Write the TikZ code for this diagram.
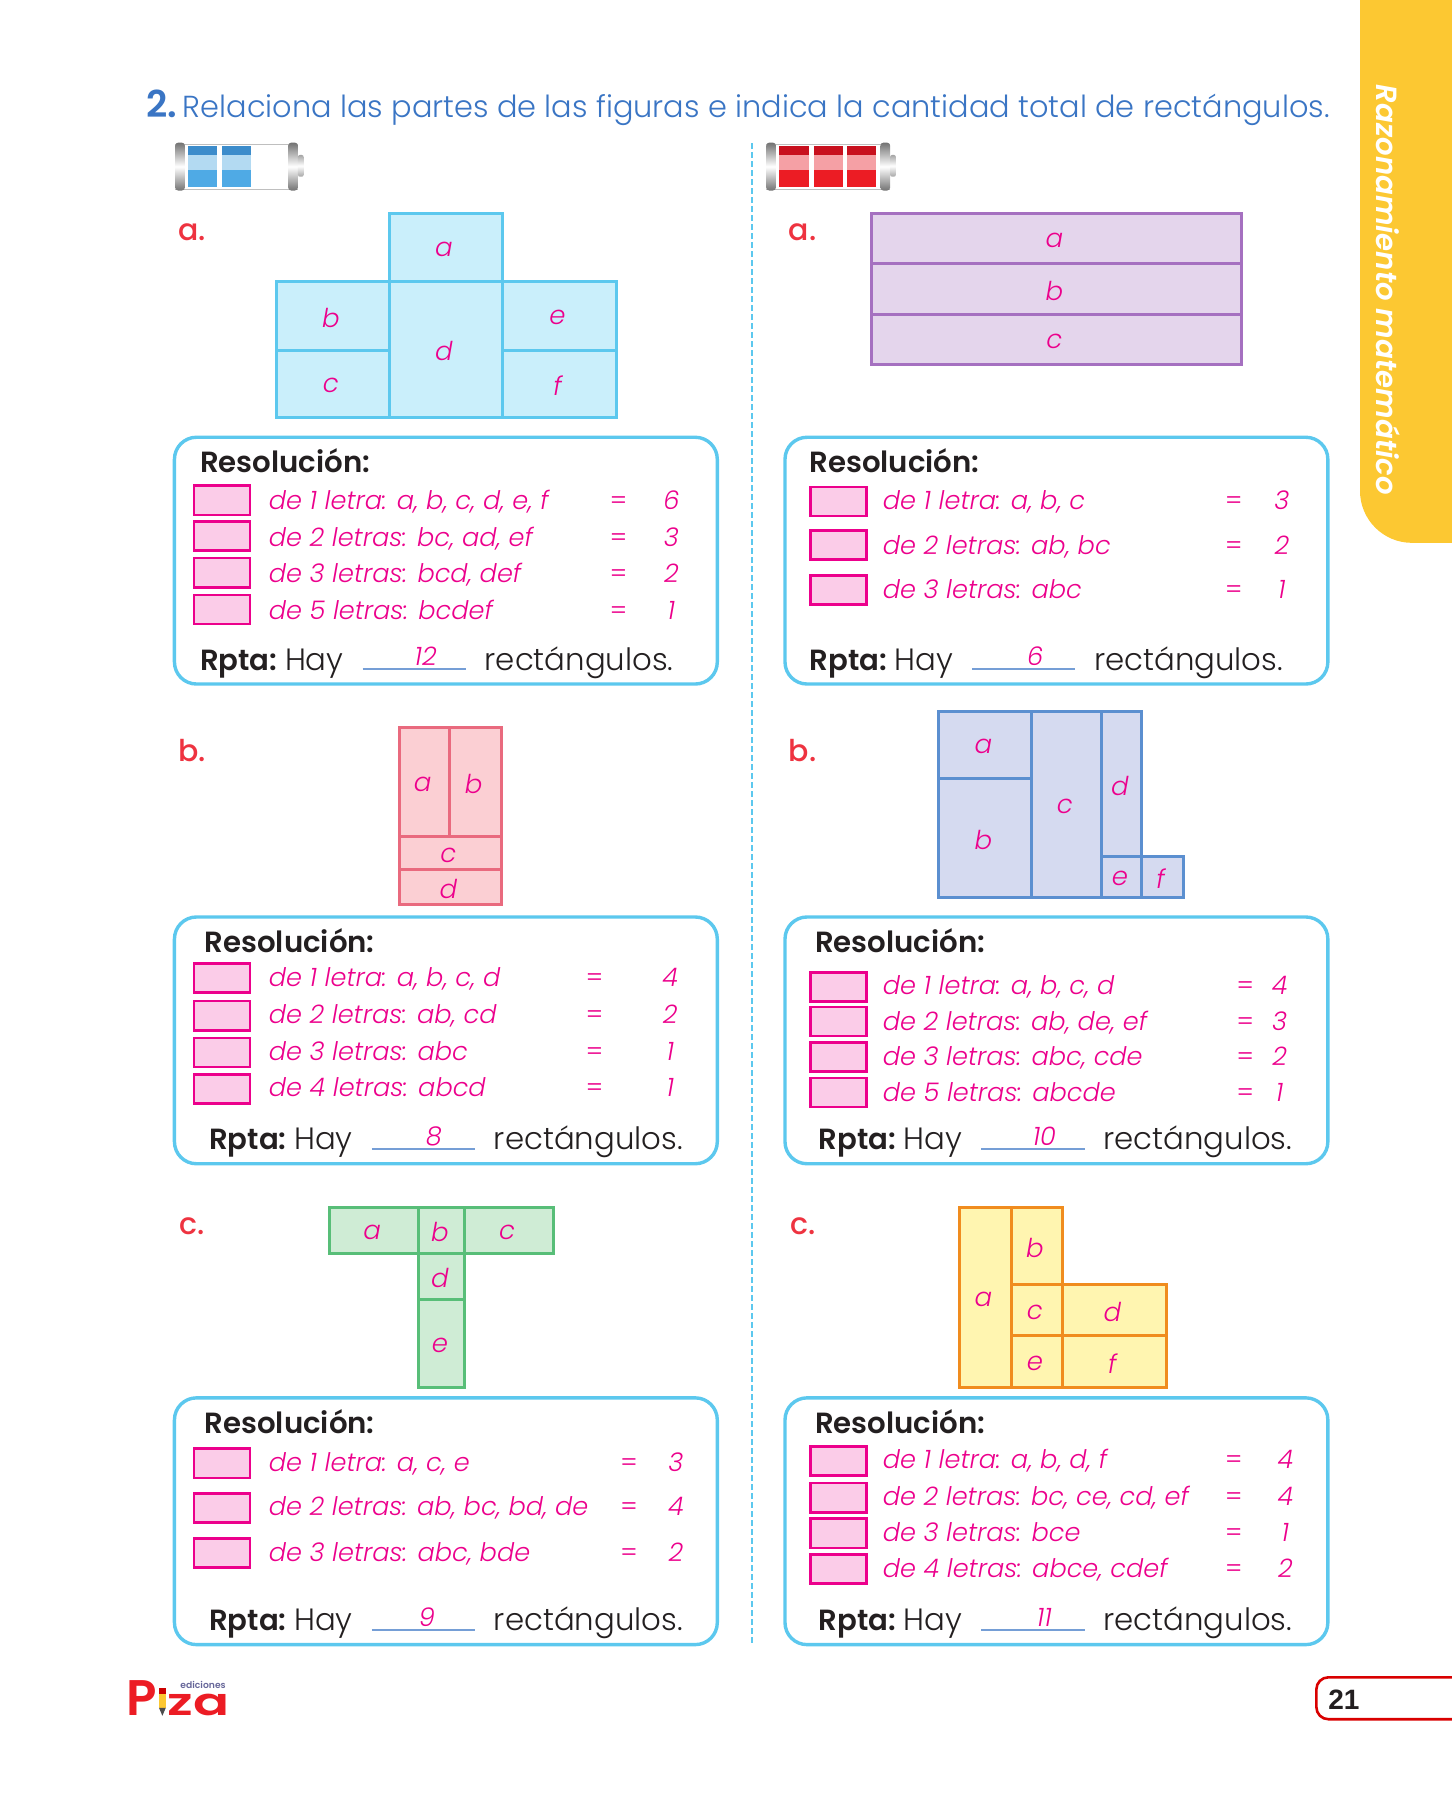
\documentclass[tikz,border=0pt]{standalone}
\usepackage{fontspec}
\usepackage{graphicx}
\setmainfont{Poppins}[UprightFont=* Light, ItalicFont=* Light Italic, BoldFont=* SemiBold, BoldItalicFont=* SemiBold Italic]
\newfontfamily\pagefont{Liberation Sans}
\newfontfamily\labelfont{Poppins Medium}
\usetikzlibrary{positioning, calc}
\definecolor{myblue}{RGB}{58,117,196}
\definecolor{myyellow}{RGB}{252,200,50}
\definecolor{myred}{RGB}{238,51,64}
\definecolor{mypink}{RGB}{236,0,140}
\definecolor{myink}{RGB}{35,31,32}
\definecolor{skyline}{RGB}{92,200,238}
\definecolor{skyfill}{RGB}{202,239,251}
\definecolor{purpline}{RGB}{165,112,192}
\definecolor{purpfill}{RGB}{228,213,236}
\definecolor{roseline}{RGB}{233,106,126}
\definecolor{rosefill}{RGB}{251,207,211}
\definecolor{bluline}{RGB}{91,143,208}
\definecolor{blufill}{RGB}{213,218,240}
\definecolor{grenline}{RGB}{88,190,120}
\definecolor{grenfill}{RGB}{207,236,213}
\definecolor{oranline}{RGB}{240,140,30}
\definecolor{oranfill}{RGB}{255,245,176}
\definecolor{batblue}{RGB}{79,170,229}
\definecolor{batbluetop}{RGB}{60,140,203}
\definecolor{batbluemid}{RGB}{179,218,242}
\definecolor{batred}{RGB}{236,28,36}
\definecolor{batredtop}{RGB}{200,16,30}
\definecolor{batredmid}{RGB}{245,160,165}

% one frame with title, answer line and blank
\newcommand{\resframe}[7]{%
    \draw[res_frame] (#2,#3) rectangle ++(473,215);
    \node[res_title, anchor=mid west] (#1_title) at (#7,#3+26) {Resoluci\'on:};
    \node[res_title, anchor=base west] (#1_rpta) at (#4+0,#3+203) {Rpta:};
    \node[answer_text, anchor=base west] (#1_hay) at (#4+74,#3+203) {Hay};
    \coordinate (#1_blank_a) at (#4+142,#3+202);
    \coordinate (#1_blank_b) at (#4+232,#3+202);
    \draw[blank_line] (#1_blank_a) -- (#1_blank_b);
    \node[row_text, anchor=base] (#1_total) at (#5,#3+199) {#6};
    \node[answer_text, anchor=base west] (#1_rect) at (#4+248,#3+203) {rect\'angulos.};
}
% rows: box y / text y / text / value
\newcommand{\resrows}[6]{%
    \foreach \boxy/\rowy/\rowtext/\rowval [count=\rowi] in {#6} {
        \node[tick_box] (#1_box\rowi) at (#2,\boxy) {};
        \node[row_text, anchor=mid west] (#1_text\rowi) at (#3,\rowy) {\rowtext};
        \node[row_text, anchor=mid] (#1_eq\rowi) at (#4,\rowy) {\upshape=};
        \node[row_text, anchor=mid] (#1_val\rowi) at (#5,\rowy) {\rowval};
    }
}
% charge indicator: left x, colour stem, cell width, body width, cell left edges
\newcommand{\battery}[5]{%
    \fill[white] (#1,124.5) rectangle (#1+#4,166);
    \draw[gray!50, line width=0.5pt] (#1,125.5) -- (#1+#4,125.5) (#1,165) -- (#1+#4,165);
    \shade[top color=gray!90!black, bottom color=gray!90!black, middle color=white, rounded corners=1.5pt] (#1,124.3) rectangle ++(8.5,41.7);
    \shade[top color=gray!90!black, bottom color=gray!90!black, middle color=white, rounded corners=1.5pt] (#1+#4-8.5,124.3) rectangle ++(8.5,41.7);
    \shade[top color=gray!70, bottom color=gray!70, middle color=white, rounded corners=1pt] (#1+#4,135) rectangle ++(5,19);
    \foreach \cellx in {#5} {
        \fill[#2] (\cellx,127) rectangle ++(#3,35.6);
        \fill[#2mid] (\cellx,135) rectangle ++(#3,13);
        \fill[#2top] (\cellx,127) rectangle ++(#3,8);
    }
}

\begin{document}
\begin{tikzpicture}[
    x=0.5739pt, y=-0.5739pt,
    res_frame/.style={draw=skyline, line width=1.7pt, rounded corners=11pt, fill=white},
    res_title/.style={font=\fontsize{14.6}{16}\selectfont\bfseries, text=myink, inner sep=0pt},
    answer_text/.style={font=\fontsize{15.4}{17}\selectfont, text=myink, inner sep=0pt},
    row_text/.style={font=\fontsize{12.8}{14}\selectfont\itshape, text=mypink, inner sep=0pt},
    tick_box/.style={draw=mypink, line width=1.3pt, fill=mypink!20, minimum width=28pt, minimum height=14.6pt, anchor=west, inner sep=0pt, xshift=-0.6pt},
    blank_line/.style={draw=myblue!70!white, line width=0.8pt},
    item_label/.style={font=\labelfont\fontsize{15}{17}\selectfont, text=myred, inner sep=0pt, anchor=mid west},
    cell/.style={line width=1.5pt},
    cell_text/.style={font=\fontsize{13}{15}\selectfont\itshape, text=mypink, inner sep=0pt, xshift=-1pt, yshift=-1pt}
]
    \useasboundingbox (0,0) rectangle (1265,1568.4);

    % Side tab
    \fill[myyellow] (1185,0) [rounded corners=26pt] -- (1185,473) [sharp corners] -- (1265,473) -- (1265,0) -- cycle;
    \node[rotate=-90, font=\fontsize{14.6}{16}\selectfont\bfseries\itshape, text=white, inner sep=0pt] (side_text) at (1210,252.5) {Razonamiento matem\'atico};

    % Title
    \node[font=\fontsize{18.5}{20}\selectfont\bfseries, text=myblue, anchor=base west, inner sep=0pt] (task_num) at (127,102) {2.};
    \node[font=\fontsize{15.2}{17}\selectfont, text=myblue, anchor=base west, inner sep=0pt] (task_text) at (159,102) {Relaciona las partes de las figuras e indica la cantidad total de rect\'angulos.};

    % Batteries
    \battery{152.6}{batblue}{25}{107}{164,193.5}
    \battery{667.6}{batred}{25.5}{108}{679,709,738}

    % Divider
    \coordinate (div_top) at (655,125);
    \coordinate (div_bot) at (655,1432);
    \draw[skyline, line width=1.1pt, dash pattern=on 3pt off 1.5pt] (div_top) -- (div_bot);

    % Item labels
    \foreach \labx/\laby/\labt [count=\labi] in {155/205/a.,155/659/b.,156/1071/c.,687/205/a.,687/659/b.,688/1071/c.} {
        \node[item_label] (item_\labi) at (\labx,\laby) {\labt};
    }

    % Figure a, left
    \begin{scope}[cell/.append style={draw=skyline, fill=skyfill}]
        \draw[cell] (339,186) rectangle (438,245) node[midway, cell_text] (la_a) {a};
        \draw[cell] (241,245) rectangle (339,305) node[midway, cell_text] (la_b) {b};
        \draw[cell] (241,305) rectangle (339,364) node[midway, cell_text] (la_c) {c};
        \draw[cell] (339,245) rectangle (438,364) node[midway, cell_text] (la_d) {d};
        \draw[cell] (438,245) rectangle (537,305) node[midway, cell_text] (la_e) {e};
        \draw[cell] (438,305) rectangle (537,364) node[midway, cell_text] (la_f) {f};
    \end{scope}

    % Figure a, right
    \begin{scope}[cell/.append style={draw=purpline, fill=purpfill}]
        \draw[cell] (759,186) rectangle (1082,230) node[midway, cell_text] (ra_a) {a};
        \draw[cell] (759,230) rectangle (1082,274) node[midway, cell_text] (ra_b) {b};
        \draw[cell] (759,274) rectangle (1082,318) node[midway, cell_text] (ra_c) {c};
    \end{scope}

    % Figure b, left
    \begin{scope}[cell/.append style={draw=roseline, fill=rosefill}]
        \draw[cell] (348,634) rectangle (392,729) node[midway, cell_text] (lb_a) {a};
        \draw[cell] (392,634) rectangle (437,729) node[midway, cell_text] (lb_b) {b};
        \draw[cell] (348,729) rectangle (437,758) node[midway, cell_text] (lb_c) {c};
        \draw[cell] (348,758) rectangle (437,788) node[midway, cell_text] (lb_d) {d};
    \end{scope}

    % Figure b, right
    \begin{scope}[cell/.append style={draw=bluline, fill=blufill}]
        \draw[cell] (818,620) rectangle (899,678) node[midway, cell_text] (rb_a) {a};
        \draw[cell] (818,678) rectangle (899,782) node[midway, cell_text] (rb_b) {b};
        \draw[cell] (899,620) rectangle (960,782) node[midway, cell_text] (rb_c) {c};
        \draw[cell] (960,620) rectangle (995,746) node[midway, cell_text] (rb_d) {d};
        \draw[cell] (960,746) rectangle (995,782) node[midway, cell_text] (rb_e) {e};
        \draw[cell] (995,746) rectangle (1031,782) node[midway, cell_text] (rb_f) {f};
    \end{scope}

    % Figure c, left
    \begin{scope}[cell/.append style={draw=grenline, fill=grenfill}]
        \draw[cell] (287,1052) rectangle (365,1092) node[midway, cell_text] (lc_a) {a};
        \draw[cell] (365,1052) rectangle (405,1092) node[midway, cell_text] (lc_b) {b};
        \draw[cell] (405,1052) rectangle (482,1092) node[midway, cell_text] (lc_c) {c};
        \draw[cell] (365,1092) rectangle (405,1132) node[midway, cell_text] (lc_d) {d};
        \draw[cell] (365,1132) rectangle (405,1209) node[midway, cell_text] (lc_e) {e};
    \end{scope}

    % Figure c, right
    \begin{scope}[cell/.append style={draw=oranline, fill=oranfill}]
        \draw[cell] (836,1052) rectangle (881,1209) node[midway, cell_text] (rc_a) {a};
        \draw[cell] (881,1052) rectangle (926,1119) node[midway, cell_text] (rc_b) {b};
        \draw[cell] (881,1119) rectangle (926,1164) node[midway, cell_text] (rc_c) {c};
        \draw[cell] (926,1119) rectangle (1016,1164) node[midway, cell_text] (rc_d) {d};
        \draw[cell] (881,1164) rectangle (926,1209) node[midway, cell_text] (rc_e) {e};
        \draw[cell] (926,1164) rectangle (1016,1209) node[midway, cell_text] (rc_f) {f};
    \end{scope}

    % Resolution frames
    \resframe{lfa}{152}{381}{174}{371}{12}{174}
    \resrows{lfa}{169}{234}{539}{585}{436/439/{de 1 letra: a, b, c, d, e, f}/6, 467/471/{de 2 letras: bc, ad, ef}/3, 499/503/{de 3 letras: bcd, def}/2, 531/535/{de 5 letras: bcdef}/1}

    \resframe{rga}{684}{381}{705}{902}{6}{705}
    \resrows{rga}{706}{769}{1075}{1117}{437/439/{de 1 letra: a, b, c}/3, 475/478/{de 2 letras: ab, bc}/2, 514/517/{de 3 letras: abc}/1}

    \resframe{lfb}{152}{799}{182}{378}{8}{178}
    \resrows{lfb}{169}{234}{518}{584}{852/855/{de 1 letra: a, b, c, d}/4, 885/887/{de 2 letras: ab, cd}/2, 917/919/{de 3 letras: abc}/1, 949/951/{de 4 letras: abcd}/1}

    \resframe{rgb}{684}{799}{713}{910}{10}{710}
    \resrows{rgb}{706}{769}{1085}{1115}{860/862/{de 1 letra: a, b, c, d}/4, 890/893/{de 2 letras: ab, de, ef}/3, 921/924/{de 3 letras: abc, cde}/2, 952/955/{de 5 letras: abcde}/1}

    \resframe{lfc}{152}{1218}{182}{372}{9}{178}
    \resrows{lfc}{169}{234}{548}{589}{1275/1277/{de 1 letra: a, c, e}/3, 1314/1316/{de 2 letras: ab, bc, bd, de}/4, 1353/1356/{de 3 letras: abc, bde}/2}

    \resframe{rgc}{684}{1218}{713}{910}{11}{710}
    \resrows{rgc}{706}{769}{1075}{1120}{1273/1275/{de 1 letra: a, b, d, f}/4, 1305/1307/{de 2 letras: bc, ce, cd, ef}/4, 1336/1338/{de 3 letras: bce}/1, 1367/1370/{de 4 letras: abce, cdef}/2}

    % Logo
    \node[font=\fontsize{25}{27}\selectfont\bfseries, text=batred, anchor=base west, inner sep=0pt] (logo_p) at (110,1495) {P};
    \node[font=\fontsize{19}{20}\selectfont\bfseries, text=batred, anchor=base west, inner sep=0pt] (logo_za) at (146,1495) {\scalebox{1.4}[1]{za}};
    \node[font=\fontsize{4.6}{5}\selectfont\bfseries, text=gray!80!blue, anchor=base east, inner sep=0pt] (logo_ed) at (197,1471.5) {ediciones};
    \fill[myyellow] (138.5,1476) rectangle (144.5,1488);
    \fill[red!80!black] (138.5,1471) rectangle (144.5,1476);
    \fill[black!70] (138.5,1488) -- (144.5,1488) -- (141.5,1495) -- cycle;

    % Page number
    \coordinate (page_a) at (1265,1461.5);
    \coordinate (page_b) at (1265,1498);
    \draw[red!85!black, line width=1.3pt, rounded corners=6pt] (page_a) -- (1147,1461.5) -- (1147,1498) -- (page_b);
    \node[font=\pagefont\fontsize{14}{16}\selectfont\bfseries, text=myink, anchor=west, inner sep=0pt] (page_num) at (1157,1481) {21};
\end{tikzpicture}
\end{document}
